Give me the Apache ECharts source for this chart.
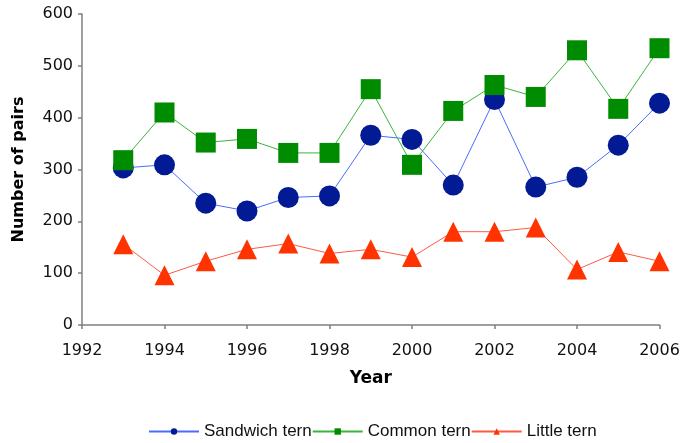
<!DOCTYPE html>
<html>
<head>
<meta charset="utf-8">
<script src="https://cdn.jsdelivr.net/npm/echarts@6/dist/echarts.min.js"></script>
<style>html,body{margin:0;padding:0;background:#fff}#c{width:687px;height:443px}</style>
</head>
<body>
<div id="c"></div>
<script>
const years = [1993,1994,1995,1996,1997,1998,1999,2000,2001,2002,2003,2004,2005,2006];
const sandwich = [303,309,235,220,246,249,366,358,270,435,266,285,347,428];
const common = [318,410,352,359,332,332,455,309,413,463,440,530,417,534];
const little = [156,96,123,146,157,138,146,131,180,180,188,107,141,123];
const xTicks = {min:1992, max:2006, interval:2};
const yTicks = {min:0, max:600, interval:100};

const pair = arr => years.map((y,i)=>[y,arr[i]]);
const chart = echarts.init(document.getElementById('c'), null, {renderer:'canvas'});
const axisLabel = {color:'#111', fontFamily:'DejaVu Sans', fontSize:16};
chart.setOption({
  animation:false,
  backgroundColor:'#fff',
  grid:{left:82, right:27.5, top:14, bottom:118, containLabel:false},
  xAxis:{
    type:'value', min:xTicks.min, max:xTicks.max, interval:xTicks.interval,
    name:'Year', nameLocation:'middle', nameGap:45,
    nameTextStyle:{fontFamily:'DejaVu Sans', fontWeight:'bold', fontSize:17, color:'#000'},
    axisLine:{show:true, lineStyle:{color:'#808080', width:1.5}},
    axisTick:{show:true, length:4, lineStyle:{color:'#808080', width:1.5}},
    splitLine:{show:false},
    axisLabel:Object.assign({margin:18, formatter:v=>String(v)}, axisLabel)
  },
  yAxis:{
    type:'value', min:yTicks.min, max:yTicks.max, interval:yTicks.interval,
    name:'Number of pairs', nameLocation:'middle', nameGap:55, nameRotate:90,
    nameTextStyle:{fontFamily:'DejaVu Sans', fontWeight:'bold', fontSize:16, color:'#000'},
    axisLine:{show:true, lineStyle:{color:'#808080', width:1.5}},
    axisTick:{show:true, length:4, lineStyle:{color:'#808080', width:1.5}},
    splitLine:{show:false},
    axisLabel:Object.assign({margin:9}, axisLabel)
  },
  legend:{
    top:423, left:148, padding:0, itemGap:0, itemWidth:50, itemHeight:8,
    textStyle:{fontFamily:'Liberation Sans', fontSize:17, color:'#111'},
    data:['Sandwich tern','Common tern','Little tern']
  },
  series:[
    {name:'Sandwich tern', type:'line', data:pair(sandwich), symbol:'circle', symbolSize:21,
     lineStyle:{color:'#4a6cff', width:1}, itemStyle:{color:'#021a94'}},
    {name:'Common tern', type:'line', data:pair(common), symbol:'rect', symbolSize:20,
     lineStyle:{color:'#3cb43c', width:1}, itemStyle:{color:'#008c00'}},
    {name:'Little tern', type:'line', data:pair(little), symbol:'triangle', symbolSize:20,
     lineStyle:{color:'#ff5a45', width:1}, itemStyle:{color:'#ff3300'}}
  ]
});
</script>
</body>
</html>
